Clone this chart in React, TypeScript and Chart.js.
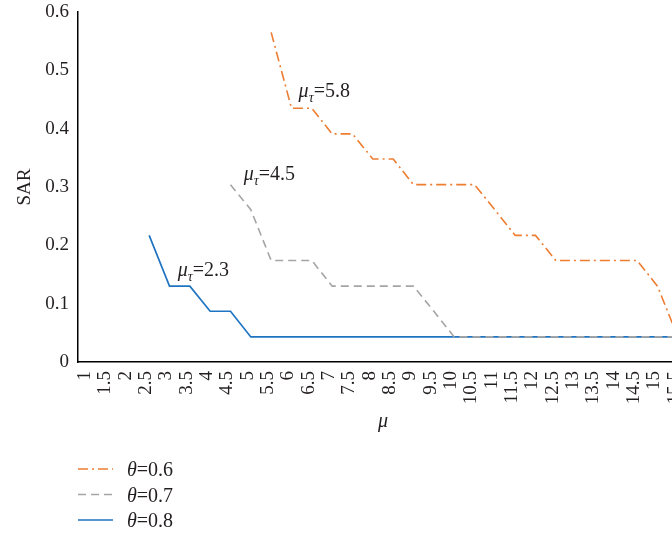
import React, { useEffect, useRef } from 'react';
import { Chart, registerables } from 'chart.js';

Chart.register(...registerables);

const SERIF = "'Liberation Serif', 'Times New Roman', serif";
const TEXT_COLOR = '#231f20';

// categories (μ)
const MU_LABELS = [
  '1', '1.5', '2', '2.5', '3', '3.5', '4', '4.5', '5', '5.5',
  '6', '6.5', '7', '7.5', '8', '8.5', '9', '9.5', '10', '10.5',
  '11', '11.5', '12', '12.5', '13', '13.5', '14', '14.5', '15', '15.5',
];

// SAR series
const SAR_THETA_06 = [
  null, null, null, null, null, null, null, null, null, 0.565,
  0.435, 0.435, 0.391, 0.391, 0.348, 0.348, 0.304, 0.304, 0.304, 0.304,
  0.261, 0.217, 0.217, 0.174, 0.174, 0.174, 0.174, 0.174, 0.13, 0.043,
];
const SAR_THETA_07 = [
  null, null, null, null, null, null, null, 0.304, 0.261, 0.174,
  0.174, 0.174, 0.13, 0.13, 0.13, 0.13, 0.13, 0.087, 0.043, 0.043,
  0.043, 0.043, 0.043, 0.043, 0.043, 0.043, 0.043, 0.043, 0.043, 0.043,
];
const SAR_THETA_08 = [
  null, null, null, 0.217, 0.13, 0.13, 0.087, 0.087, 0.043, 0.043,
  0.043, 0.043, 0.043, 0.043, 0.043, 0.043, 0.043, 0.043, 0.043, 0.043,
  0.043, 0.043, 0.043, 0.043, 0.043, 0.043, 0.043, 0.043, 0.043, 0.043,
];

const SERIES_NAMES = ['0.6', '0.7', '0.8'];

// y-axis ticks
const Y_MIN = 0;
const Y_MAX = 0.6;
const Y_STEP = 0.1;

// μτ annotations: value text, anchor category position, anchor SAR value
const ANNOT_TEXT = ['5.8', '4.5', '2.3'];
const ANNOT_CAT = [10.35, 7.65, 4.4];
const ANNOT_SAR = [0.454, 0.312, 0.147];

const overlayPlugin = {
  id: 'overlay',
  afterDraw(chart: any) {
    const { ctx, chartArea } = chart;
    const xs = chart.scales.x;
    const ys = chart.scales.y;
    ctx.save();
    ctx.fillStyle = TEXT_COLOR;
    ctx.textBaseline = 'alphabetic';
    ctx.textAlign = 'left';
    ANNOT_TEXT.forEach((t, i) => {
      let px = xs.getPixelForValue(ANNOT_CAT[i]);
      const py = ys.getPixelForValue(ANNOT_SAR[i]);
      ctx.font = `italic 20px ${SERIF}`;
      ctx.fillText('μ', px, py);
      px += ctx.measureText('μ').width;
      ctx.font = `italic 14px ${SERIF}`;
      ctx.fillText('τ', px, py + 5);
      px += ctx.measureText('τ').width;
      ctx.font = `20px ${SERIF}`;
      ctx.fillText('=' + t, px, py);
    });

    // legend
    const datasets = chart.data.datasets;
    datasets.forEach((ds: any, i: number) => {
      const rowY = chartArea.bottom + 107 + i * 25.5;
      const lx = chartArea.left;
      ctx.beginPath();
      ctx.setLineDash(ds.borderDash || []);
      ctx.strokeStyle = ds.borderColor;
      ctx.lineWidth = ds.borderWidth;
      ctx.moveTo(lx, rowY);
      ctx.lineTo(lx + 35, rowY);
      ctx.stroke();
      ctx.setLineDash([]);
      let tx = lx + 49;
      ctx.fillStyle = TEXT_COLOR;
      ctx.font = `italic 20px ${SERIF}`;
      ctx.fillText('θ', tx, rowY + 7);
      tx += ctx.measureText('θ').width;
      ctx.font = `20px ${SERIF}`;
      ctx.fillText('=' + SERIES_NAMES[i], tx, rowY + 7);
    });
    ctx.restore();
  },
};

export default function App() {
  const canvasRef = useRef<HTMLCanvasElement | null>(null);

  useEffect(() => {
    if (!canvasRef.current) return;
    const chart = new Chart(canvasRef.current, {
      type: 'line',
      data: {
        labels: MU_LABELS,
        datasets: [
          {
            label: 'θ=' + SERIES_NAMES[0],
            data: SAR_THETA_06,
            borderColor: '#ed7d31',
            borderWidth: 1.6,
            borderDash: [10, 4, 2, 4],
            pointRadius: 0,
            fill: false,
          },
          {
            label: 'θ=' + SERIES_NAMES[1],
            data: SAR_THETA_07,
            borderColor: '#a5a5a5',
            borderWidth: 1.6,
            borderDash: [8, 5],
            pointRadius: 0,
            fill: false,
          },
          {
            label: 'θ=' + SERIES_NAMES[2],
            data: SAR_THETA_08,
            borderColor: '#1f74c2',
            borderWidth: 1.7,
            pointRadius: 0,
            fill: false,
          },
        ],
      },
      options: {
        responsive: false,
        animation: false,
        layout: { padding: { top: 12, left: 0, right: 0, bottom: 95 } },
        plugins: {
          legend: { display: false },
          tooltip: { enabled: false },
        },
        elements: { line: { tension: 0 }, point: { radius: 0 } },
        scales: {
          x: {
            type: 'category',
            offset: true,
            grid: { display: false, drawTicks: false },
            border: { display: true, color: '#000', width: 1.5 },
            ticks: {
              autoSkip: false,
              maxRotation: 90,
              minRotation: 90,
              padding: 9,
              labelOffset: -3,
              color: TEXT_COLOR,
              font: { family: SERIF, size: 19 },
            },
            title: {
              display: true,
              text: 'μ',
              color: TEXT_COLOR,
              font: { family: SERIF, size: 20, style: 'italic' },
              padding: { top: 0, bottom: 6 },
            },
            afterFit: (s: any) => {
              s.height = 78;
              s.paddingLeft = 0;
              s.paddingRight = 0;
            },
          },
          y: {
            min: Y_MIN,
            max: Y_MAX,
            grid: { display: false, drawTicks: false },
            border: { display: true, color: '#000', width: 1.5 },
            ticks: {
              stepSize: Y_STEP,
              padding: 9,
              color: TEXT_COLOR,
              font: { family: SERIF, size: 19 },
            },
            title: {
              display: true,
              text: 'SAR',
              color: TEXT_COLOR,
              font: { family: SERIF, size: 19 },
              padding: { top: 14, bottom: 0 },
            },
            afterFit: (s: any) => {
              s.width = 78;
              s.paddingTop = 0;
              s.paddingBottom = 0;
            },
          },
        },
      } as any,
      plugins: [overlayPlugin],
    });
    return () => chart.destroy();
  }, []);

  return (
    <div style={{ position: 'fixed', left: 0, top: 0, width: 688, height: 535, background: '#fff' }}>
      <canvas ref={canvasRef} width={688} height={535} style={{ display: 'block' }} />
    </div>
  );
}
